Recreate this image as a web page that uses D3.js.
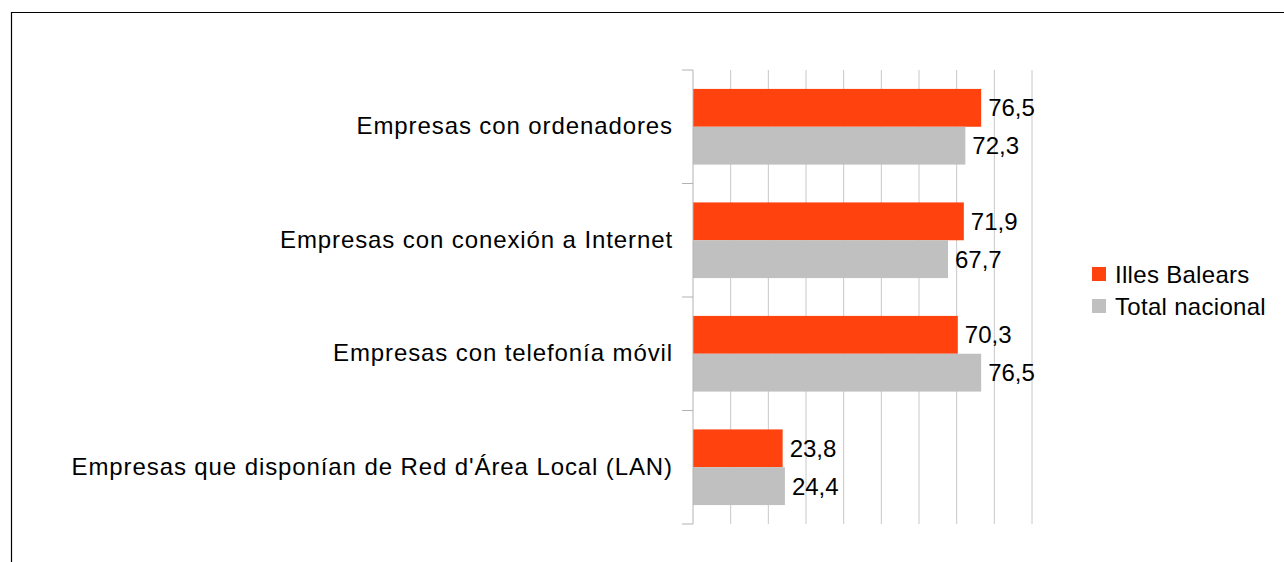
<!DOCTYPE html>
<html>
<head>
<meta charset="utf-8">
<script src="https://cdn.jsdelivr.net/npm/d3@7"></script>
<style>
  body { margin: 0; background: #fff; }
  svg { display: block; font-family: "Liberation Sans", Arial, sans-serif; }
</style>
</head>
<body>
<svg id="chart" width="1284" height="562"></svg>
<script>
// categories, top to bottom
var categories = [
  "Empresas con ordenadores",
  "Empresas con conexión a Internet",
  "Empresas con telefonía móvil",
  "Empresas que disponían de Red d'Área Local (LAN)"
];
var seriesNames = ["Illes Balears", "Total nacional"];
var balears = [76.5, 71.9, 70.3, 23.8];
var nacional = [72.3, 67.7, 76.5, 24.4];
var xTicks = [0, 10, 20, 30, 40, 50, 60, 70, 80, 90];

var colors = ["#ff420e", "#c0c0c0"];

function drawChart() {
  var svg = d3.select("#chart");

  // outer frame (runs off the right and bottom edges)
  svg.append("path")
      .attr("d", "M11.5,570 V12.5 H1290")
      .attr("fill", "none")
      .attr("stroke", "#000")
      .attr("stroke-width", 1.2);

  var pLeft = 693, pTop = 70, pRight = 1032, pBottom = 524;

  var x = d3.scaleLinear().domain([0, 90]).range([pLeft, pRight]);
  var y = d3.scaleBand().domain(categories).range([pTop, pBottom]);
  var sub = d3.scaleBand().domain(seriesNames).range([0, y.bandwidth()]).paddingOuter(0.5);

  // vertical grid lines
  svg.append("g").selectAll("line")
      .data(xTicks.slice(1))
      .enter().append("line")
      .attr("x1", function(d) { return x(d); })
      .attr("x2", function(d) { return x(d); })
      .attr("y1", pTop)
      .attr("y2", pBottom)
      .attr("stroke", "#c8c8c8")
      .attr("stroke-width", 1);

  // bars
  var rows = categories.map(function(c, i) { return { cat: c, vals: [balears[i], nacional[i]] }; });

  var group = svg.append("g").selectAll("g")
      .data(rows)
      .enter().append("g")
      .attr("transform", function(d) { return "translate(0," + y(d.cat) + ")"; });

  group.selectAll("rect")
      .data(function(d) { return d.vals.map(function(v, j) { return { name: seriesNames[j], v: v, j: j }; }); })
      .enter().append("rect")
      .attr("x", x(0))
      .attr("y", function(d) { return sub(d.name); })
      .attr("width", function(d) { return x(d.v) - x(0); })
      .attr("height", sub.bandwidth())
      .attr("fill", function(d) { return colors[d.j]; });

  // value labels
  group.selectAll("text")
      .data(function(d) { return d.vals.map(function(v, j) { return { name: seriesNames[j], v: v }; }); })
      .enter().append("text")
      .attr("x", function(d) { return x(d.v) + 7; })
      .attr("y", function(d) { return sub(d.name) + sub.bandwidth() / 2; })
      .attr("dy", "0.36em")
      .style("font-size", "24px")
      .text(function(d) { return d3.format(".1f")(d.v).replace(".", ","); });

  // category axis
  var yAxis = d3.axisLeft(y).tickSize(0).tickPadding(20);
  var ax = svg.append("g")
      .attr("transform", "translate(" + pLeft + ",0)")
      .call(yAxis);
  ax.select(".domain").remove();
  ax.selectAll("text")
      .style("font-size", "24px")
      .style("letter-spacing", "0.9px")
      .attr("fill", "#000");

  // axis line and band separators
  svg.append("line")
      .attr("x1", pLeft).attr("x2", pLeft)
      .attr("y1", pTop).attr("y2", pBottom)
      .attr("stroke", "#b3b3b3");
  svg.append("g").selectAll("line")
      .data(d3.range(categories.length + 1))
      .enter().append("line")
      .attr("x1", pLeft - 11).attr("x2", pLeft)
      .attr("y1", function(i) { return pTop + i * y.step(); })
      .attr("y2", function(i) { return pTop + i * y.step(); })
      .attr("stroke", "#b3b3b3");

  // legend
  var legend = svg.append("g").selectAll("g")
      .data(seriesNames)
      .enter().append("g")
      .attr("transform", function(d, i) { return "translate(1092," + (267 + i * 32) + ")"; });
  legend.append("rect")
      .attr("width", 14).attr("height", 14)
      .attr("fill", function(d, i) { return colors[i]; });
  legend.append("text")
      .attr("x", 23)
      .attr("y", 7)
      .attr("dy", "0.36em")
      .style("font-size", "24px")
      .style("letter-spacing", "0.3px")
      .text(function(d) { return d; });
}

drawChart();
</script>
</body>
</html>
